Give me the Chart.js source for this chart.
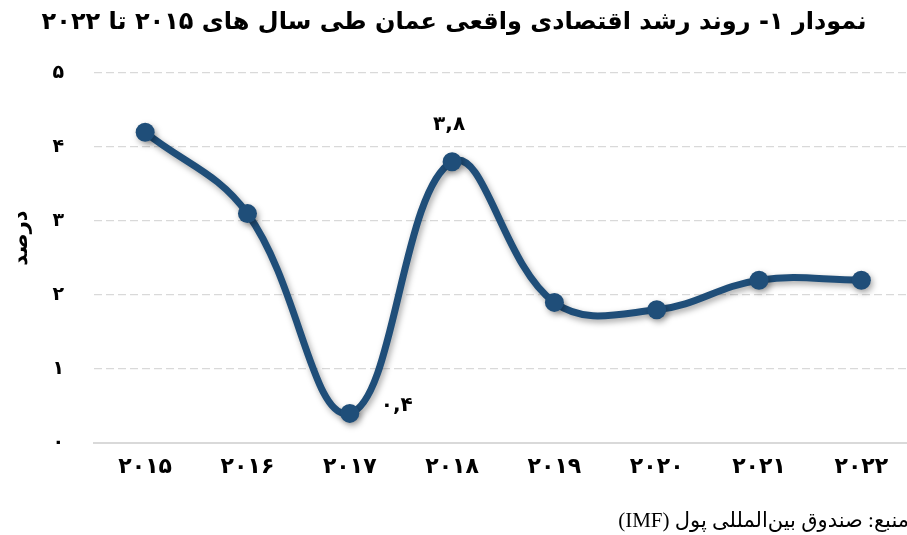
<!DOCTYPE html>
<html>
<head>
<meta charset="utf-8">
<script src="https://cdn.jsdelivr.net/npm/chart.js@4"></script>
<style>
  html, body { margin: 0; padding: 0; background: #fff; overflow: hidden; }
  #wrap { width: 922px; height: 535px; }
</style>
</head>
<body>
<div id="wrap"><canvas id="growthChart" width="922" height="535"></canvas></div>
<script>
// --- Data ---
const years = ["۲۰۱۵", "۲۰۱۶", "۲۰۱۷", "۲۰۱۸", "۲۰۱۹", "۲۰۲۰", "۲۰۲۱", "۲۰۲۲"];
const growth = [4.2, 3.1, 0.4, 3.8, 1.9, 1.8, 2.2, 2.2];
const valueLabels = [null, null, "۰,۴", "۳,۸", null, null, null, null];
const yTickLabels = ["۰", "۱", "۲", "۳", "۴", "۵"];

const chartTitle = "نمودار ۱- روند رشد اقتصادی واقعی عمان طی سال های ۲۰۱۵ تا ۲۰۲۲";
const yTitle = "درصد";
const sourceNote = "منبع: صندوق بین‌المللی پول (IMF)";

const FONT = "'DejaVu Sans', sans-serif";
const LINE = "#1f4e79";

// wider digit spacing for the axis labels
const spacingPlugin = {
  id: "spacing",
  beforeDraw(chart) { chart.ctx.letterSpacing = "3px"; }
};

// shadow under the line
const shadowPlugin = {
  id: "shadow",
  beforeDatasetDraw(chart) {
    const ctx = chart.ctx;
    ctx.save();
    ctx.shadowColor = "rgba(0,0,0,0.35)";
    ctx.shadowBlur = 6;
    ctx.shadowOffsetX = 2;
    ctx.shadowOffsetY = 3;
  },
  afterDatasetDraw(chart) {
    chart.ctx.restore();
  }
};

// title, axis title, value labels, source note
const textPlugin = {
  id: "texts",
  afterDraw(chart) {
    const ctx = chart.ctx;
    ctx.save();
    ctx.letterSpacing = "0px";
    ctx.fillStyle = "#000";
    ctx.textBaseline = "middle";

    ctx.direction = "rtl";
    ctx.textAlign = "center";
    ctx.font = "bold 24px " + FONT;
    ctx.fillText(chartTitle, 454, 23);

    ctx.textAlign = "right";
    ctx.font = "21px 'Liberation Serif', " + FONT;
    ctx.fillText(sourceNote, 909, 521);

    const area = chart.chartArea;
    ctx.save();
    ctx.translate(22, (area.top + area.bottom) / 2 - 20);
    ctx.rotate(-Math.PI / 2);
    ctx.textAlign = "center";
    ctx.font = "bold 21px " + FONT;
    ctx.fillText(yTitle, 0, 0);
    ctx.restore();

    ctx.direction = "ltr";
    ctx.textAlign = "center";
    ctx.font = "bold 20px " + FONT;
    ctx.letterSpacing = "4px";
    const pts = chart.getDatasetMeta(0).data;
    valueLabels.forEach((t, i) => {
      if (!t) return;
      const p = pts[i];
      if (growth[i] < 1) ctx.fillText(t, p.x + 47, p.y - 8);
      else ctx.fillText(t, p.x - 3, p.y - 37);
    });
    ctx.restore();
  }
};

new Chart(document.getElementById("growthChart"), {
  type: "line",
  data: {
    labels: years,
    datasets: [{
      data: growth,
      borderColor: LINE,
      backgroundColor: LINE,
      borderWidth: 7,
      tension: 0.4,
      pointRadius: 9.5,
      pointBorderWidth: 0,
      pointBackgroundColor: LINE,
      fill: false
    }]
  },
  options: {
    responsive: false,
    devicePixelRatio: 1,
    animation: false,
    layout: { padding: { top: 73, bottom: 0, left: 0, right: 0 } },
    plugins: {
      legend: { display: false },
      title: { display: false },
      tooltip: { enabled: false }
    },
    scales: {
      x: {
        offset: true,
        grid: { display: false, drawTicks: false },
        border: { display: true, color: "#d9d9d9", width: 2 },
        ticks: {
          color: "#000",
          padding: 11,
          font: { family: FONT, size: 22, weight: "bold" }
        },
        afterFit(s) { s.height = 92; }
      },
      y: {
        min: 0,
        max: 5,
        grid: {
          drawTicks: false,
          lineWidth: 1.2,
          color: (c) => (c.tick && c.tick.value === 0 ? "rgba(0,0,0,0)" : "#d9d9d9")
        },
        border: { display: false, dash: [8, 4] },
        ticks: {
          stepSize: 1,
          color: "#000",
          padding: 30,
          font: { family: FONT, size: 19, weight: "bold" },
          callback: (v) => yTickLabels[v]
        },
        afterFit(s) { s.width = 94; }
      }
    }
  },
  plugins: [spacingPlugin, shadowPlugin, textPlugin]
});
</script>
</body>
</html>
